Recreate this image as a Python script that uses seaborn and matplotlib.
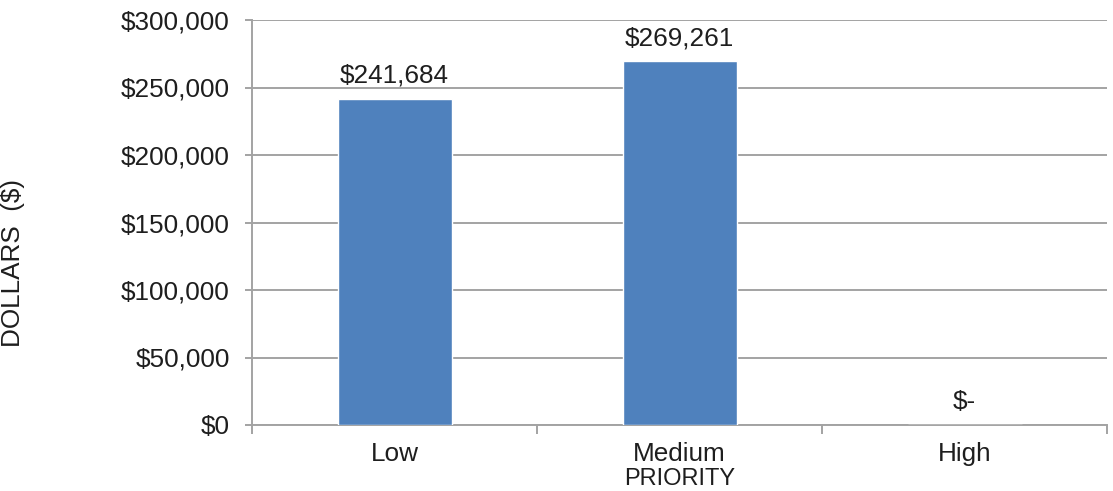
import matplotlib
matplotlib.use("Agg")
import matplotlib.pyplot as plt
import seaborn as sns
import pandas as pd
from matplotlib.ticker import FuncFormatter, FixedLocator

categories = ["Low", "Medium", "High"]
values = [241684, 269261, 0]
value_labels = ["$241,684", "$269,261", "$-"]
y_ticks = [0, 50000, 100000, 150000, 200000, 250000, 300000]

sns.set_theme(style="white")
plt.rcParams['font.family'] = ['Liberation Sans', 'DejaVu Sans']

FS = 18.8
TXT = "#1e1e1e"
GRID = "#a3a3a3"

df = pd.DataFrame({"priority": categories, "dollars": values})

fig = plt.figure(figsize=(11.13, 4.91), dpi=100)
ax = fig.add_axes([252/1113, 1-425/491, (1107-252)/1113, (425-20)/491])

sns.barplot(data=df, x="priority", y="dollars", color="#4f81bd", width=0.4,
            saturation=1, ax=ax, zorder=3)

ax.set_ylim(0, 300000)
ax.set_xlim(-0.5, 2.5)
ax.yaxis.set_major_locator(FixedLocator(y_ticks))
ax.yaxis.set_major_formatter(FuncFormatter(lambda v, p: "${:,.0f}".format(v)))
ax.grid(axis="y", color=GRID, linewidth=1.4, zorder=0)
ax.grid(axis="x", visible=False)

for s in ["top", "right"]:
    ax.spines[s].set_visible(False)
for s in ["left", "bottom"]:
    ax.spines[s].set_color(GRID)
    ax.spines[s].set_linewidth(1.4)

ax.tick_params(axis="y", which="major", length=5, width=1.4, color=GRID,
               labelsize=FS, labelcolor=TXT, pad=11, left=True)
ax.tick_params(axis="x", which="major", length=0, labelsize=FS,
               labelcolor=TXT, pad=12.3)
ax.set_xticks([-0.5, 0.5, 1.5, 2.5], minor=True)
ax.tick_params(axis="x", which="minor", length=6.5, width=1.4, color=GRID,
               bottom=True)

for i, (v, lab) in enumerate(zip(values, value_labels)):
    ax.annotate(lab, xy=(i, v), xytext=(0, 16), textcoords="offset pixels",
                ha="center", va="baseline", fontsize=FS, color=TXT)

ax.set_xlabel("PRIORITY", fontsize=17, color=TXT)
ax.xaxis.set_label_coords(0.5, -65/405)
ax.xaxis.label.set_va("bottom")
ax.set_ylabel("DOLLARS  ($)", fontsize=FS, color=TXT)
ax.yaxis.set_label_coords(-0.279, 0.401)
ax.yaxis.label.set_va("center")

fig.savefig("out.png", dpi=100)
